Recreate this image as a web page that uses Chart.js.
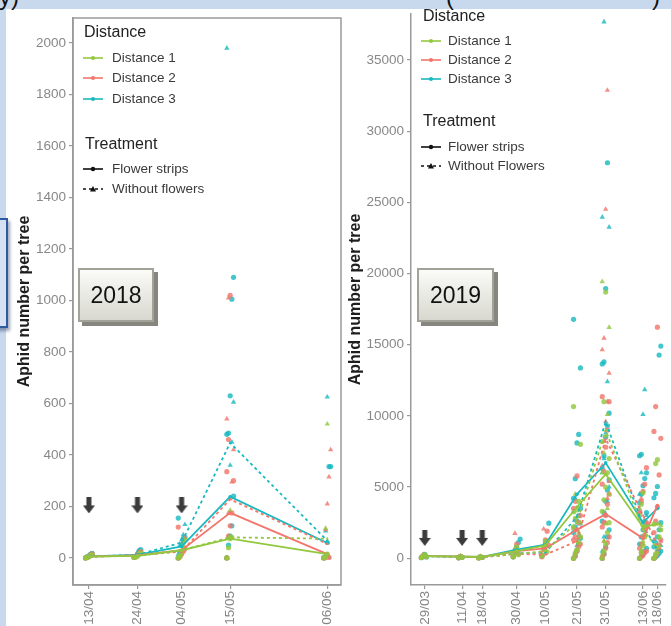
<!DOCTYPE html>
<html>
<head>
<meta charset="utf-8">
<title>Aphid number per tree 2018 / 2019</title>
<script src="https://cdn.jsdelivr.net/npm/chart.js@4.4.0/dist/chart.umd.min.js"></script>
<style>
    body {
        margin: 0;
        width: 671px;
        height: 626px;
        overflow: hidden;
        position: relative;
        background: #c8d9ee;
        font-family: "Liberation Sans", Arial, sans-serif;
    }
    .sheet { position: absolute; left: 6px; top: 9px; width: 665px; height: 617px; background: #fff; }
    .cut { position: absolute; top: -17px; font-size: 24px; color: #111; }
    .sidebox {
        position: absolute; left: -20px; top: 218px; width: 24px; height: 106px;
        border: 2px solid #2f5aa0; background: #d6e2f3;
        box-shadow: 2px 3px 3px rgba(40, 60, 100, 0.45);
    }
    canvas { position: absolute; }
    #chart2018 { left: 6px; top: 9px; }
    #chart2019 { left: 344px; top: 9px; }
    .lg { position: absolute; white-space: nowrap; color: #3a3a3a; font-size: 13.5px; line-height: 16px; }
    .lg.title { color: #222; font-size: 16px; line-height: 18px; }
    .key { position: absolute; }
    .year {
        position: absolute; height: 50px; line-height: 50px; text-align: center;
        font-size: 23px; color: #111;
        border: 2px solid #a2a299;
        background: linear-gradient(#fbfbf8, #d8d8d0);
        box-shadow: 4px 4px 0 #86867e;
    }
</style>
</head>
<body>
<div class="sheet"></div>
<div class="cut" style="left:-1px">y)</div>
<div class="cut" style="left:446px">(</div>
<div class="cut" style="left:652px">)</div>
<div class="sidebox"></div>

<canvas id="chart2018" width="340" height="617"></canvas>
<canvas id="chart2019" width="327" height="617"></canvas>

<!-- legend 2018 -->
<div class="lg title" style="left:84px; top:23px">Distance</div>
<svg class="key" style="left:83px; top:54px" width="20" height="8"><line x1="0" y1="4" x2="20" y2="4" stroke="#92c83e" stroke-width="1.6"/><circle cx="10" cy="4" r="2" fill="#92c83e"/></svg>
<div class="lg" style="left:112px; top:50px">Distance 1</div>
<svg class="key" style="left:83px; top:74px" width="20" height="8"><line x1="0" y1="4" x2="20" y2="4" stroke="#f2766c" stroke-width="1.6"/><circle cx="10" cy="4" r="2" fill="#f2766c"/></svg>
<div class="lg" style="left:112px; top:70px">Distance 2</div>
<svg class="key" style="left:83px; top:95px" width="20" height="8"><line x1="0" y1="4" x2="20" y2="4" stroke="#19b9c0" stroke-width="1.6"/><circle cx="10" cy="4" r="2" fill="#19b9c0"/></svg>
<div class="lg" style="left:112px; top:91px">Distance 3</div>
<div class="lg title" style="left:85px; top:135px">Treatment</div>
<svg class="key" style="left:83px; top:165px" width="20" height="8"><line x1="0" y1="4" x2="20" y2="4" stroke="#111" stroke-width="1.6"/><circle cx="10" cy="4" r="2.2" fill="#111"/></svg>
<div class="lg" style="left:112px; top:161px">Flower strips</div>
<svg class="key" style="left:83px; top:185px" width="20" height="8"><line x1="0" y1="4" x2="20" y2="4" stroke="#111" stroke-width="1.6" stroke-dasharray="3 3"/><polygon points="10,1 13,6.5 7,6.5" fill="#111"/></svg>
<div class="lg" style="left:112px; top:181px">Without flowers</div>

<!-- legend 2019 -->
<div class="lg title" style="left:423px; top:7px">Distance</div>
<svg class="key" style="left:421px; top:37px" width="20" height="8"><line x1="0" y1="4" x2="20" y2="4" stroke="#92c83e" stroke-width="1.6"/><circle cx="10" cy="4" r="2" fill="#92c83e"/></svg>
<div class="lg" style="left:448px; top:33px">Distance 1</div>
<svg class="key" style="left:421px; top:56px" width="20" height="8"><line x1="0" y1="4" x2="20" y2="4" stroke="#f2766c" stroke-width="1.6"/><circle cx="10" cy="4" r="2" fill="#f2766c"/></svg>
<div class="lg" style="left:448px; top:52px">Distance 2</div>
<svg class="key" style="left:421px; top:75px" width="20" height="8"><line x1="0" y1="4" x2="20" y2="4" stroke="#19b9c0" stroke-width="1.6"/><circle cx="10" cy="4" r="2" fill="#19b9c0"/></svg>
<div class="lg" style="left:448px; top:71px">Distance 3</div>
<div class="lg title" style="left:423px; top:112px">Treatment</div>
<svg class="key" style="left:421px; top:143px" width="20" height="8"><line x1="0" y1="4" x2="20" y2="4" stroke="#111" stroke-width="1.6"/><circle cx="10" cy="4" r="2.2" fill="#111"/></svg>
<div class="lg" style="left:448px; top:139px">Flower strips</div>
<svg class="key" style="left:421px; top:162px" width="20" height="8"><line x1="0" y1="4" x2="20" y2="4" stroke="#111" stroke-width="1.6" stroke-dasharray="3 3"/><polygon points="10,1 13,6.5 7,6.5" fill="#111"/></svg>
<div class="lg" style="left:448px; top:158px">Without Flowers</div>

<div class="year" style="left:78px; top:268px; width:72px">2018</div>
<div class="year" style="left:417px; top:268px; width:73px">2019</div>

<script>
// ---- 2018 ----
const days18 = [103, 114, 124, 135, 157];
const dateLabels18 = ['13/04', '24/04', '04/05', '15/05', '06/06'];
const yTicks18 = [0, 200, 400, 600, 800, 1000, 1200, 1400, 1600, 1800, 2000];
const arrowDays18 = [103, 114, 124];
const arrowLevel18 = 204;

// mean lines
const mean18D1Flower = [5, 8, 30, 75, 15];
const mean18D1Without = [5, 9, 30, 80, 75];
const mean18D2Flower = [5, 10, 30, 175, 15];
const mean18D2Without = [5, 10, 25, 228, 55];
const mean18D3Flower = [6, 12, 45, 238, 58];
const mean18D3Without = [6, 12, 60, 447, 67];

// single trees, one list per date
const raw18D1Flower = [[0, 2, 5, 9, 12], [2, 4, 8, 14, 20], [0, 5, 20, 45, 70], [0, 40, 75, 80], [0, 5, 15]];
const raw18D1Without = [[1, 3, 7, 11], [3, 5, 12, 18], [5, 10, 30, 60], [0, 80, 185], [0, 115, 520]];
const raw18D2Flower = [[0, 2, 6, 12, 16], [2, 5, 10, 20, 25], [0, 5, 15, 25, 35, 120], [0, 85, 125, 175, 300, 335, 460, 1020], [0, 3, 8, 2]];
const raw18D2Without = [[1, 3, 8, 14], [3, 6, 15, 22], [0, 10, 25, 60, 80], [0, 175, 230, 295, 420, 540, 1010], [0, 110, 210, 315, 420]];
const raw18D3Flower = [[0, 3, 8, 14, 18], [3, 6, 15, 28, 32], [0, 25, 50, 75, 80, 155], [0, 50, 85, 125, 240, 480, 485, 630, 1005, 1090], [0, 5, 60, 355, 355, 2]];
const raw18D3Without = [[2, 4, 10, 16], [4, 8, 22, 30], [15, 50, 70, 90, 130], [0, 85, 360, 450, 605, 1980], [0, 105, 625, 3]];

// ---- 2019 ----
const days19 = [88, 101, 108, 120, 130, 141, 151, 164, 169];
const dateLabels19 = ['29/03', '11/04', '18/04', '30/04', '10/05', '21/05', '31/05', '13/06', '18/06'];
const yTicks19 = [0, 5000, 10000, 15000, 20000, 25000, 30000, 35000];
const arrowDays19 = [88, 101, 108];
const arrowLevel19 = 1430;

const mean19D1Flower = [150, 120, 100, 500, 900, 3600, 5900, 2200, 2400];
const mean19D1Without = [150, 100, 80, 300, 500, 2500, 9000, 2000, 700];
const mean19D2Flower = [150, 120, 100, 500, 700, 2000, 3100, 1400, 3700];
const mean19D2Without = [150, 100, 80, 300, 250, 1200, 8400, 3000, 1000];
const mean19D3Flower = [150, 120, 100, 600, 950, 4500, 6700, 2500, 3500];
const mean19D3Without = [150, 100, 80, 350, 400, 2900, 9600, 2300, 600];

const raw19D1Flower = [[50, 150, 250, 100], [30, 120, 60], [20, 100, 50], [100, 400, 800, 250], [200, 700, 1200, 450],
    [0, 300, 600, 1100, 1500, 2200, 2800, 3400, 4000, 8000, 10650],
    [0, 500, 1000, 1800, 2500, 3300, 4100, 5000, 6000, 7000, 8200, 11000, 18700],
    [0, 400, 900, 1500, 2200, 3000, 3800, 4600],
    [0, 300, 800, 1500, 2000, 2400, 6650, 6920]];
const raw19D1Without = [[80, 200], [50, 150], [40, 120], [150, 600], [100, 800, 400],
    [0, 500, 1200, 1800, 2500, 3200, 4500],
    [300, 1200, 2400, 3500, 4500, 6000, 7400, 8600, 10100, 16220, 19430],
    [0, 600, 1200, 1800, 2400, 3500],
    [0, 200, 400, 900, 2300]];
const raw19D2Flower = [[60, 180, 120], [40, 130, 80], [30, 90, 60], [100, 500, 1000, 300], [100, 600, 1300, 1900, 900],
    [0, 200, 500, 800, 1000, 1300, 1500, 2000, 2500, 3000, 3500, 4000, 5780],
    [0, 300, 700, 1100, 1500, 2200, 2500, 3000, 3800, 4500, 5200, 6100, 7800, 9000, 11000, 11350],
    [0, 100, 200, 400, 500, 700, 1000, 1500, 2000, 2500, 3300, 4000, 4700, 5200, 6360],
    [0, 200, 500, 900, 1300, 1800, 2600, 3600, 5850, 8420, 8910, 10650, 16230]];
const raw19D2Without = [[100, 250], [60, 150], [40, 110], [200, 1740, 600], [300, 2050, 1200],
    [0, 300, 600, 1000, 1500, 2100, 2700],
    [200, 1200, 2500, 4200, 5400, 6500, 8200, 9600, 11000, 13000, 14640, 15460, 24510, 32870],
    [0, 400, 1000, 1600, 2200, 3200, 4200],
    [0, 100, 300, 700, 1200]];
const raw19D3Flower = [[40, 150, 280, 90], [30, 110, 70], [20, 90, 50], [100, 400, 800, 1100, 1350], [150, 700, 1000, 1200, 2460],
    [0, 150, 500, 1000, 1400, 1800, 2200, 2600, 3000, 3500, 4200, 5590, 8100, 8700, 13370, 16780],
    [0, 300, 800, 1500, 2000, 2600, 3200, 4000, 4800, 5500, 6300, 7200, 8500, 9300, 10190, 13650, 13790, 18940, 27780],
    [0, 150, 300, 500, 700, 1000, 1500, 2000, 2600, 3200, 3900, 4500, 5100, 5600, 6000, 7200, 7300],
    [0, 100, 200, 350, 500, 800, 1100, 1500, 2000, 2500, 4250, 4550, 5040, 14270, 14900]];
const raw19D3Without = [[80, 220], [50, 140], [40, 100], [150, 700, 400], [200, 900, 600],
    [0, 400, 900, 1600, 2400, 3300, 4200],
    [500, 1500, 3000, 4000, 5000, 6000, 7000, 8800, 12400, 23260, 23960, 37670],
    [0, 500, 1500, 2200, 3000, 4500, 6000, 10100, 11840],
    [0, 200, 400, 600, 900, 1300]];

const GREEN = '#92c83e';
const RED = '#f2766c';
const TEAL = '#19b9c0';

Chart.defaults.font.family = '"Liberation Sans", Arial, sans-serif';

// little down arrow used as point style
var arrowImg = document.createElement('canvas');
arrowImg.width = 12;
arrowImg.height = 16;
var actx = arrowImg.getContext('2d');
actx.fillStyle = '#3b3b3b';
actx.fillRect(3.5, 0, 5, 9);
actx.beginPath();
actx.moveTo(0, 8);
actx.lineTo(12, 8);
actx.lineTo(6, 16);
actx.closePath();
actx.fill();

function rawPoints(days, raw, step) {
    var pts = [];
    raw.forEach(function (vals, i) {
        vals.forEach(function (v, k) {
            pts.push({ x: days[i] + ((k % 5) - 2) * step, y: v });
        });
    });
    return pts;
}

function buildDatasets(days, series, step, arrowDays, arrowLevel) {
    var sets = [];
    series.forEach(function (s) {
        sets.push({
            type: 'scatter',
            data: rawPoints(days, s.raw, step),
            pointStyle: s.flower ? 'circle' : 'triangle',
            pointRadius: s.flower ? 2.6 : 3.1,
            backgroundColor: s.color + 'd0',
            borderWidth: 0,
            order: 2
        });
        sets.push({
            type: 'line',
            data: days.map(function (d, i) { return { x: d, y: s.mean[i] }; }),
            borderColor: s.color,
            backgroundColor: s.color,
            borderWidth: 1.8,
            borderDash: s.flower ? [] : [3, 3],
            pointStyle: s.flower ? 'circle' : 'triangle',
            pointRadius: 1.8,
            pointBorderWidth: 0,
            tension: 0,
            order: 1
        });
    });
    sets.push({
        type: 'scatter',
        data: arrowDays.map(function (d) { return { x: d, y: arrowLevel }; }),
        pointStyle: arrowImg,
        order: 0
    });
    return sets;
}

const panelBorder = {
    id: 'panelBorder',
    afterDraw(chart, args, opts) {
        if (!opts.on) return;
        var a = chart.chartArea;
        var ctx = chart.ctx;
        ctx.save();
        ctx.strokeStyle = '#9a9a9a';
        ctx.lineWidth = 1.5;
        ctx.strokeRect(a.left, a.top, a.right - a.left, a.bottom - a.top);
        ctx.restore();
    }
};

function makeChart(id, cfg) {
    return new Chart(document.getElementById(id), {
        type: 'scatter',
        data: { datasets: buildDatasets(cfg.days, cfg.series, cfg.step, cfg.arrowDays, cfg.arrowLevel) },
        plugins: [panelBorder],
        options: {
            responsive: false,
            animation: false,
            devicePixelRatio: 1,
            layout: { padding: cfg.padding },
            plugins: {
                legend: { display: false },
                tooltip: { enabled: false },
                panelBorder: { on: cfg.border }
            },
            scales: {
                x: {
                    type: 'linear',
                    min: cfg.xMin,
                    max: cfg.xMax,
                    afterBuildTicks: function (s) {
                        s.ticks = cfg.days.map(function (d) { return { value: d }; });
                    },
                    afterFit: function (s) {
                        s.height = 41;
                        s.paddingLeft = 0;
                        s.paddingRight = 0;
                    },
                    ticks: {
                        autoSkip: false,
                        maxRotation: 90,
                        minRotation: 90,
                        padding: 2,
                        color: '#858585',
                        font: { size: 13.5 },
                        callback: function (v) {
                            var i = cfg.days.indexOf(v);
                            return i >= 0 ? cfg.labels[i] : '';
                        }
                    },
                    grid: { display: true, drawOnChartArea: false, tickLength: 4, color: '#999', lineWidth: 1.2 },
                    border: { display: true, color: '#9a9a9a', width: 1.5 }
                },
                y: {
                    min: cfg.yMin,
                    max: cfg.yMax,
                    afterBuildTicks: function (s) {
                        s.ticks = cfg.yTicks.map(function (v) { return { value: v }; });
                    },
                    afterFit: function (s) {
                        s.width = 67;
                        s.paddingTop = 0;
                        s.paddingBottom = 0;
                    },
                    ticks: {
                        padding: 3,
                        color: '#888',
                        font: { size: 13.5 },
                        callback: function (v) { return String(v); }
                    },
                    grid: { display: true, drawOnChartArea: false, tickLength: 4, color: '#999', lineWidth: 1.2 },
                    border: { display: true, color: '#9a9a9a', width: 1.5 },
                    title: {
                        display: true,
                        text: 'Aphid number per tree',
                        color: '#1e1e1e',
                        font: { size: 16, weight: 'bold' },
                        padding: { top: cfg.titlePad, bottom: 0 }
                    }
                }
            }
        }
    });
}

makeChart('chart2018', {
    days: days18,
    labels: dateLabels18,
    yTicks: yTicks18,
    xMin: 99.4, xMax: 160.1,
    yMin: -105, yMax: 2097,
    step: 0.38,
    arrowDays: arrowDays18,
    arrowLevel: arrowLevel18,
    padding: { top: 9, right: 2, left: 0, bottom: 0 },
    border: true,
    titlePad: 9,
    series: [
        { color: GREEN, flower: true, mean: mean18D1Flower, raw: raw18D1Flower },
        { color: GREEN, flower: false, mean: mean18D1Without, raw: raw18D1Without },
        { color: RED, flower: true, mean: mean18D2Flower, raw: raw18D2Flower },
        { color: RED, flower: false, mean: mean18D2Without, raw: raw18D2Without },
        { color: TEAL, flower: true, mean: mean18D3Flower, raw: raw18D3Flower },
        { color: TEAL, flower: false, mean: mean18D3Without, raw: raw18D3Without }
    ]
});

makeChart('chart2019', {
    days: days19,
    labels: dateLabels19,
    yTicks: yTicks19,
    xMin: 83.2, xMax: 172,
    yMin: -1880, yMax: 38230,
    step: 0.6,
    arrowDays: arrowDays19,
    arrowLevel: arrowLevel19,
    padding: { top: 0, right: 0, left: 0, bottom: 0 },
    border: false,
    titlePad: 2,
    series: [
        { color: GREEN, flower: true, mean: mean19D1Flower, raw: raw19D1Flower },
        { color: GREEN, flower: false, mean: mean19D1Without, raw: raw19D1Without },
        { color: RED, flower: true, mean: mean19D2Flower, raw: raw19D2Flower },
        { color: RED, flower: false, mean: mean19D2Without, raw: raw19D2Without },
        { color: TEAL, flower: true, mean: mean19D3Flower, raw: raw19D3Flower },
        { color: TEAL, flower: false, mean: mean19D3Without, raw: raw19D3Without }
    ]
});
</script>
</body>
</html>
